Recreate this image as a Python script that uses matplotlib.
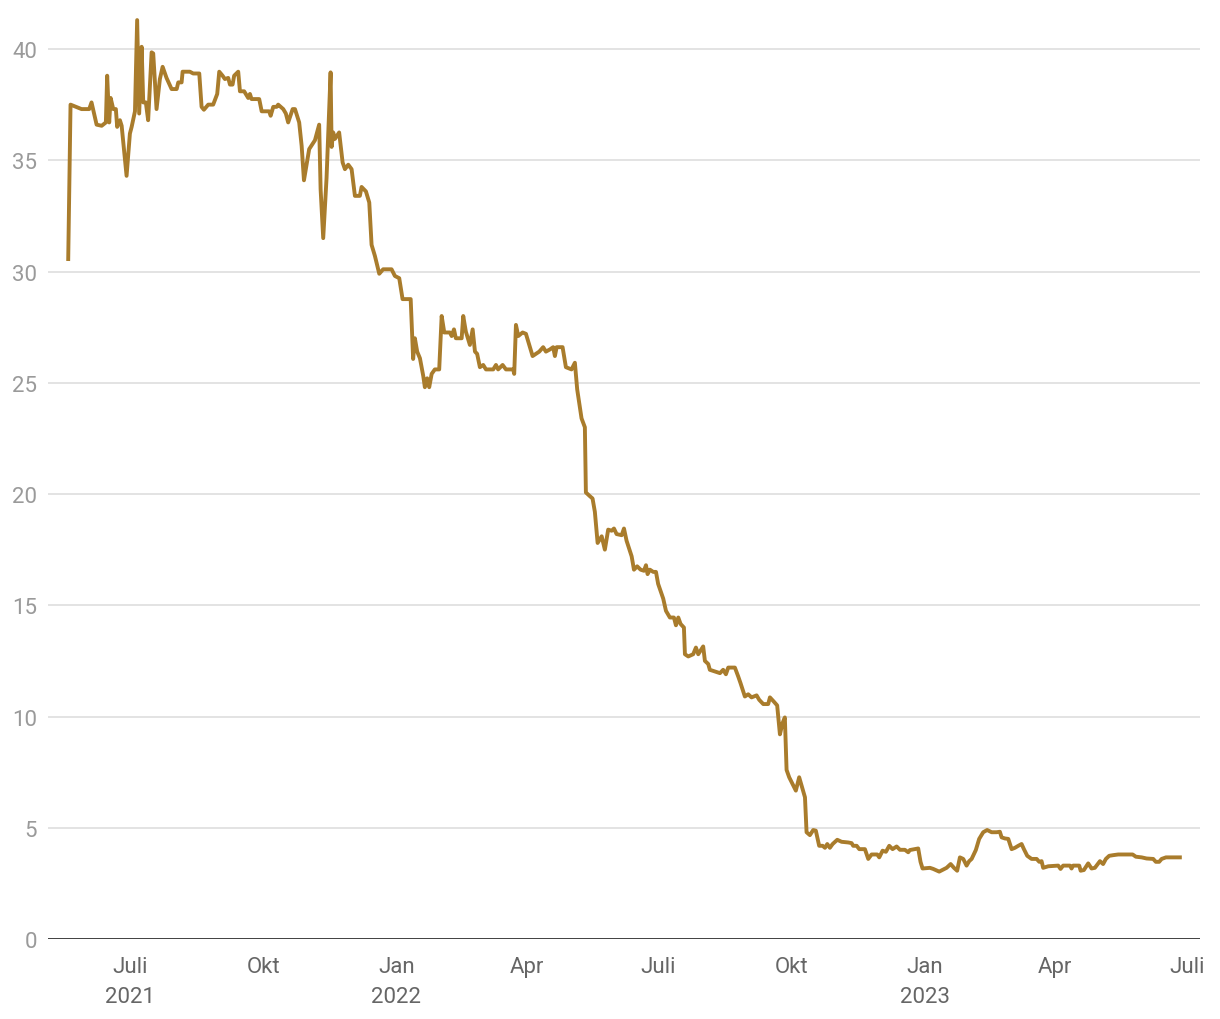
import pandas as pd
import matplotlib
matplotlib.use("Agg")
import matplotlib.pyplot as plt

plt.rcParams['font.family'] = ['Roboto', 'DejaVu Sans']

# Days since 2021-07-01 and the value
days = [-42.6, -41.0, -33.4, -28.1, -26.5, -23.0, -19.5, -16.6, -15.7, -14.3,
        -13.3, -11.5, -9.7, -8.8, -6.9, -5.7, -2.3, 0.0, 1.2, 3.5,
        5.0, 6.4, 8.1, 9.2, 11.0, 12.6, 15.0, 16.1, 18.4, 20.7,
        22.6, 25.3, 28.8, 32.3, 33.4, 35.7, 36.4, 41.4, 43.7, 47.9,
        49.5, 51.1, 54.1, 57.5, 60.3, 61.7, 64.0, 65.6, 67.9, 69.1,
        70.9, 72.0, 74.8, 76.0, 78.9, 81.7, 82.9, 84.0, 89.3, 91.0,
        96.2, 97.2, 99.0, 101.3, 102.4, 105.9, 107.7, 109.3, 112.4, 114.0,
        116.9, 118.6, 120.2, 123.8, 127.8, 130.7, 131.7, 133.5, 135.8, 138.6,
        139.3, 140.4, 141.6, 144.5, 146.9, 148.5, 150.8, 153.1, 155.4, 158.8,
        160.0, 163.0, 165.3, 166.9, 169.2, 172.2, 174.9, 180.7, 183.0, 186.0,
        188.3, 193.9, 195.6, 196.8, 198.4, 200.3, 202.6, 203.7, 205.3, 206.7,
        208.4, 210.6, 213.6, 215.3, 217.1, 221.0, 222.2, 223.8, 225.1, 229.1,
        230.2, 232.0, 234.8, 236.7, 238.3, 239.8, 241.7, 244.0, 245.9, 250.9,
        252.8, 254.3, 257.4, 259.7, 264.7, 265.4, 266.6, 268.2, 271.2, 273.5,
        275.8, 278.1, 280.4, 282.7, 285.4, 287.3, 290.1, 292.3, 293.5, 294.7,
        298.8, 301.1, 305.0, 307.3, 308.9, 311.9, 314.2, 314.9, 317.7, 319.5,
        321.1, 323.0, 325.8, 328.0, 330.3, 332.7, 334.3, 336.1, 339.6, 341.2,
        343.0, 346.5, 348.1, 350.3, 352.7, 355.0, 356.4, 357.5, 359.1, 361.4,
        363.3, 364.8, 368.3, 370.2, 372.9, 375.7, 377.1, 378.7, 380.3, 382.6,
        383.3, 385.6, 389.0, 390.9, 392.5, 395.9, 397.1, 399.4, 400.5, 405.2,
        407.5, 409.7, 411.6, 413.2, 417.8, 420.1, 421.7, 424.7, 427.0, 429.3,
        432.8, 434.6, 437.4, 440.8, 442.0, 444.7, 447.0, 448.9, 450.7, 452.3,
        453.5, 455.3, 458.1, 459.9, 462.2, 464.6, 466.2, 467.3, 469.6, 471.9,
        473.7, 476.0, 478.4, 480.0, 481.6, 483.4, 485.3, 488.5, 491.5, 496.1,
        498.4, 499.5, 501.9, 503.7, 507.6, 509.9, 512.2, 516.1, 517.5, 519.8,
        522.1, 524.4, 526.7, 529.5, 531.8, 535.2, 537.5, 538.7, 542.1, 544.4,
        546.0, 547.4, 552.5, 554.8, 558.9, 564.0, 566.8, 569.1, 571.3, 573.2,
        575.5, 577.8, 579.6, 581.3, 584.2, 586.5, 589.3, 592.0, 595.1, 598.5,
        600.8, 602.0, 604.3, 606.6, 608.9, 611.2, 613.5, 615.8, 617.4, 619.7,
        622.7, 626.2, 628.0, 629.6, 630.7, 634.2, 641.1, 642.7, 644.5, 649.2,
        650.3, 651.4, 655.6, 656.6, 658.8, 661.8, 664.1, 666.4, 669.9, 672.1,
        674.0, 676.3, 679.1, 682.5, 688.3, 692.5, 694.7, 698.7, 702.1, 706.7,
        708.5, 710.8, 712.5, 715.5, 720.5, 725.1]

values = [30.56, 37.5, 37.3, 37.3, 37.6, 36.6, 36.55, 36.7, 38.8, 36.7,
          37.8, 37.3, 37.3, 36.5, 36.8, 36.55, 34.3, 36.2, 36.5, 37.2,
          41.3, 37.1, 40.1, 37.6, 37.6, 36.8, 39.85, 39.8, 37.3, 38.65,
          39.2, 38.7, 38.2, 38.2, 38.5, 38.5, 38.98, 38.98, 38.9, 38.9,
          37.4, 37.27, 37.5, 37.5, 37.98, 38.98, 38.8, 38.65, 38.7, 38.4,
          38.4, 38.8, 38.98, 38.1, 38.1, 37.8, 37.98, 37.75, 37.75, 37.2,
          37.2, 37.0, 37.4, 37.4, 37.5, 37.3, 37.1, 36.7, 37.3, 37.3,
          36.7, 35.65, 34.1, 35.5, 35.9, 36.6, 33.7, 31.5, 34.2, 38.95,
          35.6, 36.25, 35.96, 36.25, 34.9, 34.6, 34.8, 34.6, 33.4, 33.4,
          33.8, 33.6, 33.1, 31.2, 30.7, 29.9, 30.1, 30.1, 29.8, 29.7,
          28.76, 28.76, 26.07, 27.0, 26.4, 26.1, 25.3, 24.8, 25.2, 24.8,
          25.4, 25.6, 25.6, 28.0, 27.26, 27.26, 27.1, 27.4, 27.0, 27.0,
          28.0, 27.3, 26.7, 27.4, 26.4, 26.3, 25.7, 25.8, 25.6, 25.6,
          25.8, 25.6, 25.8, 25.6, 25.6, 25.4, 27.6, 27.1, 27.26, 27.2,
          26.7, 26.2, 26.3, 26.4, 26.6, 26.4, 26.5, 26.6, 26.2, 26.6,
          26.6, 25.7, 25.6, 25.9, 24.7, 23.4, 23.0, 20.07, 19.9, 19.8,
          19.2, 17.8, 18.1, 17.5, 18.4, 18.35, 18.45, 18.2, 18.15, 18.45,
          17.9, 17.2, 16.6, 16.75, 16.6, 16.55, 16.8, 16.4, 16.6, 16.5,
          16.5, 15.96, 15.3, 14.75, 14.45, 14.45, 14.1, 14.45, 14.16, 14.0,
          12.8, 12.7, 12.8, 13.1, 12.8, 13.15, 12.5, 12.36, 12.1, 12.0,
          11.95, 12.1, 11.9, 12.2, 12.2, 11.8, 11.5, 10.9, 11.0, 10.86,
          10.95, 10.75, 10.56, 10.56, 10.86, 10.67, 10.5, 9.2, 9.7, 9.96,
          7.6, 7.27, 6.9, 6.67, 7.27, 6.74, 6.37, 4.8, 4.67, 4.9,
          4.87, 4.19, 4.19, 4.1, 4.27, 4.1, 4.27, 4.46, 4.37, 4.34,
          4.31, 4.19, 4.19, 4.04, 4.04, 3.6, 3.8, 3.8, 3.67, 3.97,
          3.92, 4.19, 4.04, 4.16, 4.01, 4.01, 3.9, 4.0, 4.04, 4.07,
          3.47, 3.17, 3.2, 3.15, 3.03, 3.2, 3.37, 3.2, 3.07, 3.67,
          3.6, 3.3, 3.5, 3.6, 4.0, 4.5, 4.8, 4.9, 4.8, 4.8,
          4.82, 4.57, 4.52, 4.5, 4.04, 4.1, 4.19, 4.27, 4.04, 3.74,
          3.6, 3.6, 3.47, 3.5, 3.2, 3.27, 3.3, 3.15, 3.3, 3.3,
          3.17, 3.3, 3.3, 3.07, 3.1, 3.4, 3.17, 3.2, 3.5, 3.37,
          3.6, 3.74, 3.77, 3.8, 3.8, 3.8, 3.7, 3.67, 3.62, 3.6,
          3.47, 3.47, 3.6, 3.67, 3.67, 3.67]

tick_dates = ['2021-07-01', '2021-10-01', '2022-01-01', '2022-04-01', '2022-07-01',
              '2022-10-01', '2023-01-01', '2023-04-01', '2023-07-01']
tick_labels = ['Juli\n2021', 'Okt', 'Jan\n2022', 'Apr', 'Juli', 'Okt', 'Jan\n2023', 'Apr', 'Juli']
y_ticks = [0, 5, 10, 15, 20, 25, 30, 35, 40]

base = pd.Timestamp('2021-07-01')
dates = base + pd.to_timedelta(days, unit='D')

fig = plt.figure(figsize=(12.2, 10.2), dpi=100)
ax = fig.add_axes([0.0393, 0.0784, 0.9443, 0.9162])

ax.plot(dates, values, color='#a97c2c', linewidth=2.8, solid_joinstyle='round', zorder=3)

ax.set_ylim(0, 42)
ax.set_xlim(base - pd.Timedelta(days=56.6), base + pd.Timedelta(days=739))

ax.set_yticks(y_ticks)
ax.set_yticklabels([str(v) for v in y_ticks])
ax.set_xticks(pd.to_datetime(tick_dates))
ax.set_xticklabels(tick_labels, linespacing=1.6)

ax.grid(axis='y', color='#e3e3e3', linewidth=1.4, zorder=0)
ax.axhline(0, color='#111111', linewidth=1.8, zorder=4)
for s in ax.spines.values():
    s.set_visible(False)

ax.tick_params(axis='y', length=0, pad=8, labelsize=16, labelcolor='#9a9a9a')
ax.tick_params(axis='x', length=0, pad=12, labelsize=16, labelcolor='#666666')

fig.savefig('out.png', dpi=100)
